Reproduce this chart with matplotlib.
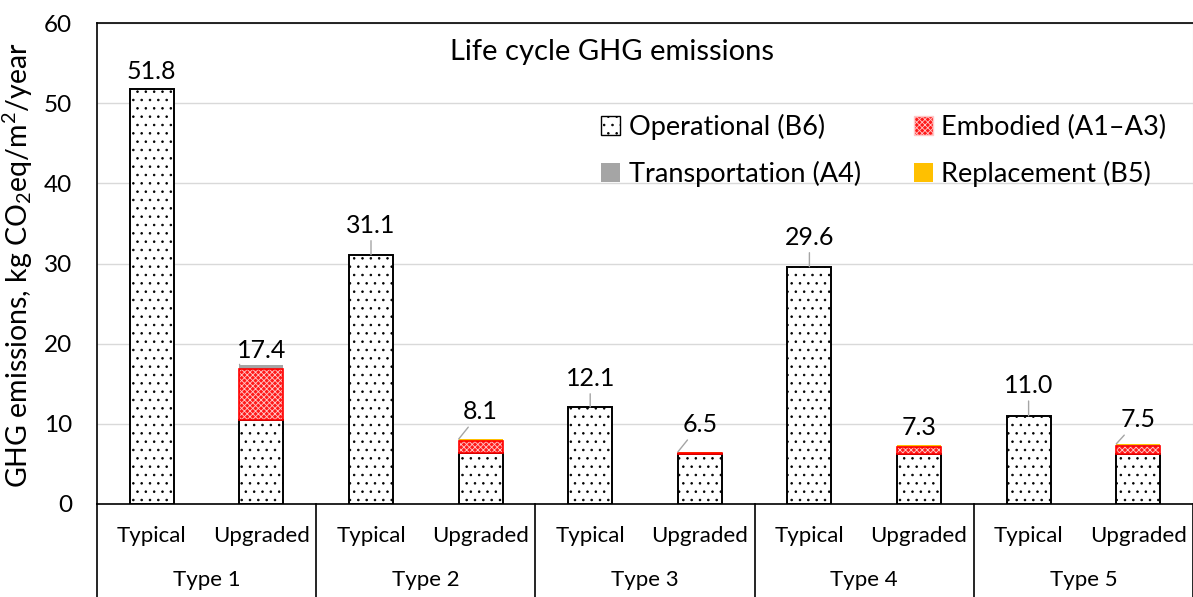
import numpy as np
import matplotlib
matplotlib.use("Agg")
import matplotlib.pyplot as plt
from matplotlib.patches import Patch
from matplotlib.transforms import blended_transform_factory

plt.rcParams["font.family"] = ["Lato", "DejaVu Sans"]
plt.rcParams["mathtext.fontset"] = "custom"
plt.rcParams["mathtext.rm"] = "Lato"
plt.rcParams["mathtext.it"] = "Lato:italic"
plt.rcParams["hatch.linewidth"] = 0.6

# data
types = ["Type 1", "Type 2", "Type 3", "Type 4", "Type 5"]
variants = ["Typical", "Upgraded"]
operational = [51.8, 10.5, 31.1, 6.3, 12.1, 6.2, 29.6, 6.2, 11.0, 6.2]
embodied = [0, 6.3, 0, 1.5, 0, 0.1, 0, 0.85, 0, 1.05]
transport = [0, 0.6, 0, 0.1, 0, 0.02, 0, 0.05, 0, 0.05]
replacement = [0, 0, 0, 0.2, 0, 0.2, 0, 0.2, 0, 0.2]
totals = [51.8, 17.4, 31.1, 8.1, 12.1, 6.5, 29.6, 7.3, 11.0, 7.5]
label_y = [53.9, 19.2, 34.8, 11.5, 15.7, 9.9, 33.3, 9.5, 14.8, 10.5]
leader = [False, True, True, True, True, True, True, False, True, True]

FS = 16
W = 0.4
GRAY = "#a5a5a5"
GOLD = "#ffc000"
RED = "#ff1a1a"

fig = plt.figure(figsize=(11.93, 5.97), dpi=100)
ax = fig.add_axes([97 / 1193, 1 - 504 / 597, 1 - 97 / 1193, 481 / 597])

x = np.arange(len(operational))
op = np.array(operational)
emb = np.array(embodied)
tr = np.array(transport)
rep = np.array(replacement)

ax.bar(x, op, W, facecolor="white", edgecolor="black", hatch="..", lw=1.4, zorder=3)
ax.bar(x, emb, W, bottom=op, facecolor=RED, edgecolor="#ffc8c8",
       hatch="xxxxxx", lw=0, zorder=3)
ax.bar(x[emb > 0], emb[emb > 0], W, bottom=op[emb > 0], fill=False,
       edgecolor="red", lw=1.2, zorder=4)
ax.bar(x, tr, W, bottom=op + emb, color=GRAY, lw=0, zorder=3)
ax.bar(x, rep, W, bottom=op + emb + tr, color=GOLD, lw=0, zorder=3)

for i, t in enumerate(totals):
    if leader[i]:
        ax_x = x[i] if i % 2 == 0 else x[i] - W / 2
        ax.annotate(f"{t:.1f}", xy=(ax_x, t), xytext=(x[i], label_y[i]),
                    textcoords="data", ha="center", va="center", fontsize=FS + 2,
                    arrowprops=dict(arrowstyle="-", color=GRAY, lw=1,
                                    shrinkA=1, shrinkB=0), zorder=5)
    else:
        ax.text(x[i], label_y[i], f"{t:.1f}", ha="center", va="center",
                fontsize=FS + 2, zorder=5)

ax.set_xlim(-0.5, len(x) - 0.5)
ax.set_ylim(0, 60)
ax.set_yticks(np.arange(0, 61, 10))
ax.tick_params(axis="y", length=0, pad=18, labelsize=17.5)
ax.set_xticks([])
ax.grid(axis="y", color="#d9d9d9", lw=1, zorder=0)
ax.set_axisbelow(True)
for s in ["left", "top", "bottom"]:
    ax.spines[s].set_color("black")
    ax.spines[s].set_linewidth(1.2)
ax.spines["right"].set_color("#d9d9d9")

ax.set_ylabel(r"GHG emissions, kg CO$_2$eq/m$^2$/year", fontsize=20.5)
ax.yaxis.set_label_coords(-0.057, 0.497)

# two-level category axis
trans = blended_transform_factory(ax.transData, ax.transAxes)
for i in range(len(x)):
    ax.text(x[i], -0.0665, variants[i % 2], transform=trans, ha="center",
            va="center", fontsize=FS)
for g, name in enumerate(types):
    ax.text(2 * g + 0.5, -0.158, name, transform=trans, ha="center",
            va="center", fontsize=FS)
for b in np.arange(-0.5, len(x), 2):
    ax.plot([b, b], [0, -0.25], transform=trans, color="black", lw=1.2,
            clip_on=False)

ax.text(4.2, 56.4, "Life cycle GHG emissions", ha="center", va="center",
        fontsize=21)

handles = [
    Patch(facecolor="white", edgecolor="black", hatch="..", label="Operational (B6)"),
    Patch(facecolor=GRAY, label="Transportation (A4)"),
    Patch(facecolor=RED, edgecolor="#ffc8c8", hatch="xxxxxx", label="Embodied (A1–A3)"),
    Patch(facecolor=GOLD, label="Replacement (B5)"),
]
ax.legend(handles=handles, ncol=2, loc="upper left", bbox_to_anchor=(0.438, 0.861),
          frameon=False, fontsize=19.5, handlelength=0.7, handleheight=0.7,
          handletextpad=0.3, columnspacing=1.98, labelspacing=0.75)

fig.savefig("out.png", dpi=100)
